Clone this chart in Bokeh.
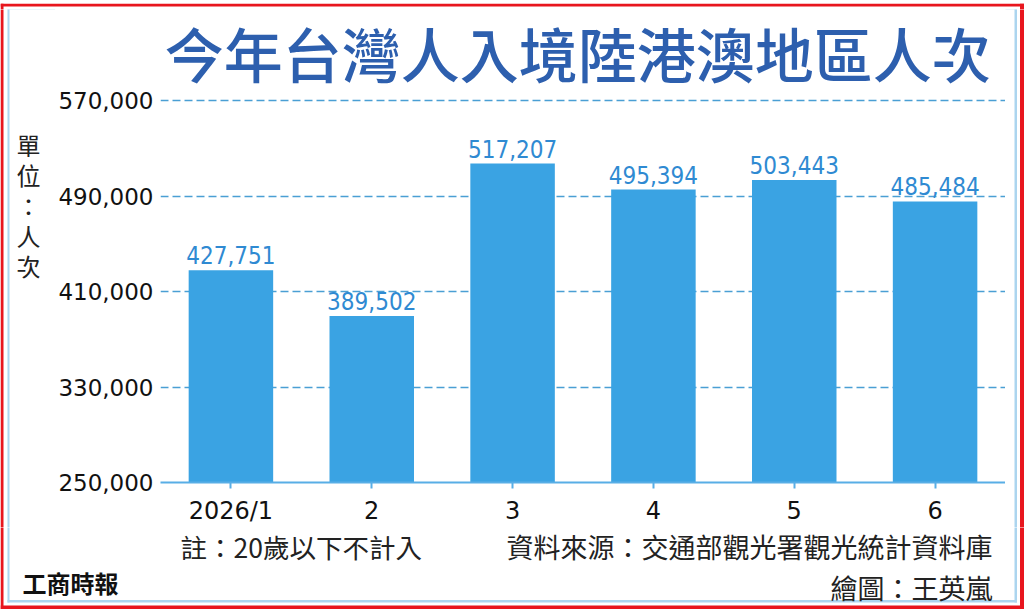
from bokeh.plotting import figure
from bokeh.layouts import column, row
from bokeh.models import ColumnDataSource, FixedTicker, NumeralTickFormatter, FactorRange, Range1d
from bokeh.core.properties import value
from bokeh.embed import file_html
from bokeh.resources import INLINE

# ---- data ----
months = ["2026/1", "2", "3", "4", "5", "6"]
visitors = [427751, 389502, 517207, 495394, 503443, 485484]
y_ticks = [250000, 330000, 410000, 490000, 570000]
title_text = "今年台灣人入境陸港澳地區人次"
unit_chars = ["單", "位", "：", "人", "次"]
note_text = "註：20歲以下不計入"
source_text = "資料來源：交通部觀光署觀光統計資料庫"
credit_text = "繪圖：王英嵐"
logo_text = "工商時報"

CJK = value("Noto Sans CJK TC")
RED = "#e8161e"
LBLUE = "#acd5ef"

# page frame decoration: (left, right, top, bottom, colour) in page pixels
FRAME_RECTS = [
    (0, 1024, 0, 3, RED), (0, 3, 0, 609, RED), (1019.5, 1024, 0, 609, RED), (0, 1024, 605, 609, RED),
    (7, 1016.5, 7, 9, LBLUE), (7, 9, 7, 602, LBLUE), (1014, 1016.5, 7, 602, LBLUE),
    (7, 1016.5, 599.5, 602, LBLUE),
]

aligned_ok = True


def no_align(f):
    global aligned_ok
    try:
        f.frame_align = False
    except Exception:
        aligned_ok = False


def strip(ox, oy, w, h):
    f = figure(width=w, height=h, x_range=Range1d(ox, ox + w), y_range=Range1d(oy + h, oy),
               output_backend="svg", toolbar_location=None, min_border=0,
               x_axis_type=None, y_axis_type=None)
    f.outline_line_color = None
    f.border_fill_color = "white"
    f.background_fill_color = "white"
    f.xgrid.visible = False
    f.ygrid.visible = False
    f.quad(left=[r[0] for r in FRAME_RECTS], right=[r[1] for r in FRAME_RECTS],
           top=[r[2] for r in FRAME_RECTS], bottom=[r[3] for r in FRAME_RECTS],
           fill_color=[r[4] for r in FRAME_RECTS], line_color=None)
    no_align(f)
    return f


TOP_H, MID_H, BOT_H = 9, 518, 82
LEFT_W, MAIN_W, RIGHT_W = 55, 950, 19

top = strip(0, 0, 1024, TOP_H)
left = strip(0, TOP_H, LEFT_W, MID_H)
right = strip(LEFT_W + MAIN_W, TOP_H, RIGHT_W, MID_H)
bottom = strip(0, TOP_H + MID_H, 1024, BOT_H)

# unit label (stacked characters)
left.text(x=[28] * len(unit_chars), y=[144 + 30.25 * i for i in range(len(unit_chars))],
          text=unit_chars, text_align="center", text_baseline="middle",
          text_font=CJK, text_font_size="24px", text_color="#222222")

# notes
bottom.text(x=[180], y=[546], text=[note_text], text_align="left", text_baseline="middle",
            text_font=CJK, text_font_size="26.5px", text_color="#222222")
bottom.text(x=[992, 992], y=[546, 587], text=[source_text, credit_text], text_align="right",
            text_baseline="middle", text_font=CJK, text_font_size="27px", text_color="#222222")
bottom.text(x=[22], y=[582], text=[logo_text], text_align="left", text_baseline="middle",
            text_font=CJK, text_font_size="24px", text_font_style="bold", text_color="#111111")

# ---- main chart ----
src = ColumnDataSource(dict(month=months, visitors=visitors,
                            label=[f"{v:,}" for v in visitors]))

px_per_val = 386 / 320000.0          # vertical scale of the reference
frame_h = MID_H - 40
y_end = y_ticks[0] + frame_h / px_per_val

p = figure(x_range=FactorRange(*months), y_range=Range1d(y_ticks[0], y_end),
           width=MAIN_W, height=MID_H, output_backend="svg", toolbar_location=None,
           min_border_left=104, min_border_right=0, min_border_top=0, min_border_bottom=40)
p.outline_line_color = None
p.background_fill_color = "white"
p.border_fill_color = "white"
no_align(p)

p.vbar(x="month", top="visitors", bottom=y_ticks[0], width=0.6, source=src,
       fill_color="#3aa3e3", line_color=None)
p.text(x="month", y="visitors", text="label", source=src, y_offset=-6,
       text_align="center", text_baseline="bottom",
       text_font=value("DejaVu Sans Condensed, Liberation Sans"),
       text_font_size="24px", text_color="#2f8ad2")

# title inside the top of the main frame
title_y = y_ticks[0] + (487 - 52.5) / px_per_val
p.text(x=[2.962], y=[title_y], text=[title_text], text_align="center", text_baseline="middle",
       text_font=value("Noto Sans CJK TC Medium, Noto Sans CJK TC"), text_font_size="59px",
       text_color="#2d5fae")

p.xaxis.axis_line_color = "#58aee6"
p.xaxis.axis_line_width = 2
p.xaxis.major_tick_line_color = "#58aee6"
p.xaxis.major_tick_line_width = 2
p.xaxis.major_tick_out = 6
p.xaxis.major_tick_in = 0
p.xaxis.minor_tick_line_color = None
p.xaxis.major_label_text_font = "DejaVu Sans"
p.xaxis.major_label_text_font_size = "24px"
p.xaxis.major_label_text_color = "#111111"
p.xaxis.major_label_standoff = 8

p.yaxis.ticker = FixedTicker(ticks=y_ticks)
p.yaxis.formatter = NumeralTickFormatter(format="0,0")
p.yaxis.axis_line_color = None
p.yaxis.major_tick_line_color = None
p.yaxis.minor_tick_line_color = None
p.yaxis.major_tick_out = 0
p.yaxis.major_tick_in = 0
p.yaxis.major_label_text_font = "DejaVu Sans"
p.yaxis.major_label_text_font_size = "23px"
p.yaxis.major_label_text_color = "#111111"
p.yaxis.major_label_standoff = 7

p.xgrid.grid_line_color = None
p.ygrid.grid_line_color = "#4a9fd4"
p.ygrid.grid_line_dash = "8 4"
p.ygrid.grid_line_width = 1.5

if aligned_ok:
    middle = row(left, p, right)
else:
    middle = row(column(left), p, column(right))

layout = column(top, middle, bottom)

open("out.html", "w").write(file_html(layout, INLINE))
